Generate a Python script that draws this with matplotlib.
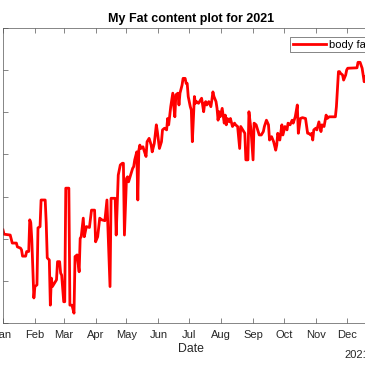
import numpy as np
import matplotlib
matplotlib.use('Agg')
import matplotlib.pyplot as plt
import matplotlib.dates as mdates

plt.rcParams['font.family'] = ['Liberation Sans', 'DejaVu Sans']

# measurement day (offset from 1 Jan 2021) and body fat value
days = [0, 1, 7, 9, 13, 14, 17, 18, 19, 22,
        23, 25, 26, 27, 28, 30, 31, 33, 34, 36,
        37, 41, 42, 43, 45, 46, 47, 48, 50, 52,
        53, 55, 56, 57, 59, 60, 61, 64, 65, 67,
        69, 70, 72, 74, 75, 76, 78, 79, 81, 84,
        86, 89, 90, 92, 94, 96, 99, 101, 104, 105,
        109, 110, 112, 114, 116, 117, 118, 120, 121, 122,
        124, 126, 127, 128, 130, 131, 132, 133, 134, 136,
        137, 139, 140, 142, 144, 145, 147, 149, 150, 152,
        154, 155, 157, 159, 160, 161, 163, 165, 166, 167,
        168, 170, 171, 172, 174, 175, 177, 178, 179, 180,
        182, 183, 184, 186, 187, 188, 190, 192, 193, 195,
        196, 197, 198, 200, 202, 203, 204, 205, 207, 208,
        209, 210, 211, 213, 215, 216, 217, 218, 220, 221,
        223, 225, 226, 228, 230, 231, 233, 235, 236, 238,
        239, 241, 243, 244, 246, 248, 249, 251, 253, 254,
        256, 258, 259, 261, 263, 265, 266, 267, 269, 271,
        272, 274, 276, 277, 279, 281, 282, 284, 286, 287,
        289, 291, 294, 296, 297, 299, 300, 301, 302, 304,
        305, 307, 309, 310, 312, 314, 315, 317, 323, 324,
        325, 326, 327, 328, 330, 331, 333, 334, 335, 344,
        345, 347, 349, 350, 351, 352, 353, 354, 355, 357,
        358, 360, 362]

body_fat = [17.21, 17.11, 17.09, 16.90, 16.90, 16.81, 16.78, 16.74, 16.59, 16.59,
            16.70, 16.70, 17.45, 17.38, 16.97, 15.60, 15.87, 15.91, 17.26, 17.29,
            17.92, 17.92, 17.38, 16.55, 16.50, 15.43, 16.07, 15.87, 15.95, 16.03,
            16.46, 16.46, 16.19, 16.14, 15.51, 15.51, 18.20, 18.20, 15.43, 15.43,
            15.24, 16.58, 16.62, 16.22, 17.01, 17.05, 17.49, 17.05, 17.29, 17.27,
            17.68, 17.68, 16.93, 17.05, 17.49, 17.45, 17.43, 17.92, 15.87, 17.96,
            17.96, 17.09, 18.51, 18.75, 18.79, 18.79, 17.09, 18.43, 18.47, 18.35,
            18.51, 18.67, 18.71, 18.87, 19.06, 17.92, 19.10, 19.22, 19.14, 19.18,
            19.10, 18.95, 19.30, 19.38, 19.22, 19.06, 19.26, 19.70, 19.54, 19.14,
            19.30, 19.58, 19.62, 19.58, 19.85, 19.70, 20.13, 20.45, 20.13, 19.89,
            20.41, 20.45, 20.17, 20.45, 20.64, 20.80, 20.80, 20.68, 20.68, 20.37,
            20.13, 20.05, 19.30, 20.37, 20.21, 20.25, 20.21, 20.29, 20.33, 20.01,
            20.21, 20.25, 20.17, 20.25, 20.13, 20.29, 20.48, 20.37, 20.25, 20.09,
            19.81, 20.01, 19.89, 20.09, 19.74, 19.93, 19.70, 19.85, 19.77, 19.85,
            19.66, 19.74, 19.70, 19.66, 19.14, 19.66, 19.58, 19.50, 18.87, 18.87,
            20.01, 19.58, 18.87, 19.74, 19.70, 19.54, 19.46, 19.46, 19.54, 19.66,
            19.81, 19.70, 19.34, 19.42, 19.30, 19.10, 19.22, 19.50, 19.34, 19.70,
            19.46, 19.66, 19.58, 19.74, 19.70, 19.81, 19.74, 19.89, 20.17, 19.50,
            19.85, 19.87, 19.85, 19.50, 19.50, 19.46, 19.50, 19.34, 19.58, 19.62,
            19.58, 19.77, 19.54, 19.70, 19.66, 19.93, 19.85, 19.89, 19.89, 20.13,
            20.56, 20.96, 20.96, 20.92, 20.88, 20.76, 20.88, 21.00, 21.04, 21.05,
            21.18, 21.18, 21.04, 20.88, 20.72, 20.84, 20.80, 20.64, 20.76, 20.76,
            20.72, 20.80, 20.76]

dates = np.datetime64('2021-01-01') + np.array(days).astype('timedelta64[D]')

axcol = '#262626'
fig = plt.figure(figsize=(3.65, 3.65), dpi=100)
# axes runs past the right edge, like the cropped original
ax = fig.add_axes([3 / 365, 41.7 / 365, 375.6 / 365, 295.6 / 365])

ax.plot(dates, body_fat, color='red', lw=2, label='body fat')

ax.set_xlim(np.datetime64('2021-01-01'), np.datetime64('2022-01-01'))
ax.set_ylim(15, 22)
ax.set_yticks(np.arange(15, 23, 1))
ax.xaxis.set_major_locator(mdates.MonthLocator())
ax.xaxis.set_major_formatter(mdates.DateFormatter('%b'))

ax.tick_params(direction='in', length=3.5, width=0.5, color='#555555',
               labelcolor=axcol, labelsize=8, top=True, right=True, pad=5)
for s in ax.spines.values():
    s.set_color('#555555')
    s.set_linewidth(0.5)

ax.set_title('My Fat content plot for 2021', fontsize=9, fontweight='bold',
             color='black', pad=4)
ax.set_xlabel('Date', fontsize=8.8, color=axcol, labelpad=2)
fig.text(344 / 365, 1 - 355 / 365, '2021', fontsize=8, color=axcol,
         ha='left', va='center')

leg = ax.legend(loc='upper right', bbox_to_anchor=(0.982, 0.969),
                borderaxespad=0, fontsize=8, fancybox=False, framealpha=1,
                edgecolor='#555555', borderpad=0.25, handlelength=3.0,
                handletextpad=0.25)
leg.get_frame().set_linewidth(0.5)

fig.savefig('out.png', dpi=100)
